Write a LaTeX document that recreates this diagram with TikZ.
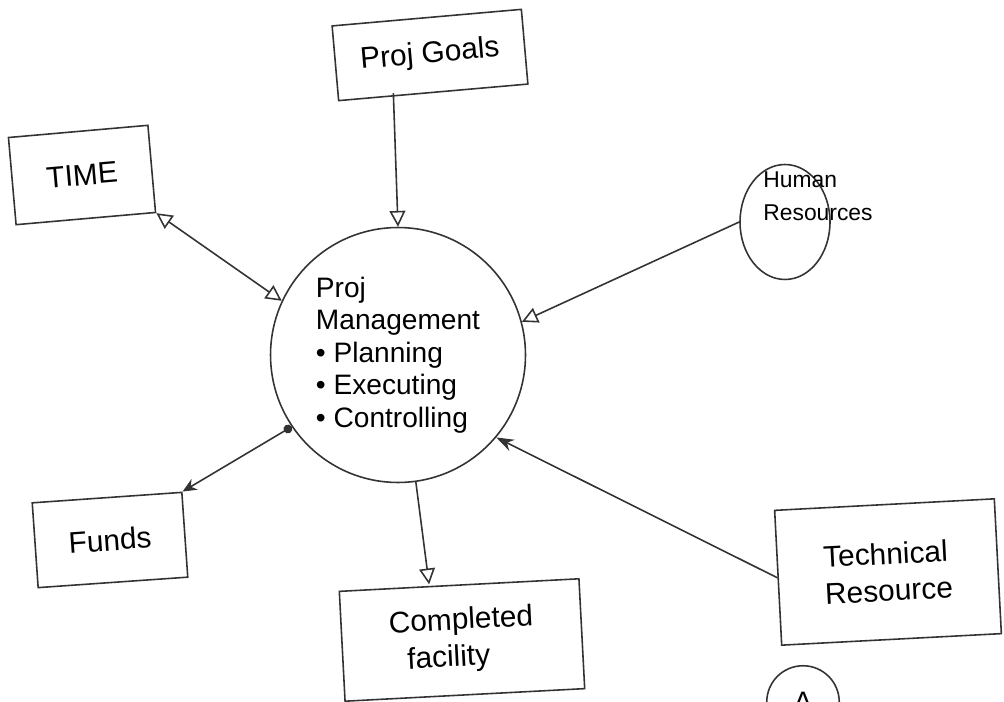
\documentclass[tikz,border=0pt]{standalone}
\usepackage{fontspec}
\setmainfont{Liberation Sans}
\usetikzlibrary{arrows.meta,shapes.geometric}

\tikzset{
    sketch/.style={draw=black!80, line width=0.9pt},
    box/.style={sketch, rectangle, align=left, font=\fontsize{17}{21}\selectfont},
    hub/.style={sketch, circle, align=left, minimum size=5.1cm, font=\fontsize{16}{18.5}\selectfont},
    flow/.style={sketch, -{Triangle[open, length=9pt, width=9pt]}},
    twoway/.style={sketch, {Triangle[open, length=9pt, width=9pt]}-{Triangle[open, length=9pt, width=9pt]}},
    fundflow/.style={sketch, {Stealth[length=8pt, width=7pt]}-{Circle[length=5pt]}},
    pull/.style={sketch, -{Stealth[length=10pt, width=7pt]}},
}
\newcommand{\bulletline}[1]{\textbullet\ #1}

\begin{document}
\begin{tikzpicture}[x=0.02cm, y=-0.02cm]
    \useasboundingbox (0,0) rectangle (1004,702);

    % Project management in the middle
    \node[hub] (pm) at (398,355) {Proj\\Management\\\bulletline{Planning}\\\bulletline{Executing}\\\bulletline{Controlling}};

    % Inputs and outputs around it
    \node[box, minimum width=3.8cm, minimum height=1.5cm, rotate=5] (goals) at (430,55) {Proj Goals};
    \node[box, minimum width=2.8cm, minimum height=1.75cm, rotate=5] (time) at (82,175) {TIME};
    \node[box, minimum width=3cm, minimum height=1.7cm, rotate=4] (funds) at (110,540) {Funds};
    \node[box, minimum width=4.8cm, minimum height=2.2cm, rotate=3] (facility) at (462,640) {Completed\\\ \ facility};
    \node[box, minimum width=4.4cm, minimum height=2.7cm, rotate=3] (tech) at (888,572) {Technical\\Resource};
    \node[sketch, ellipse, minimum width=1.8cm, minimum height=2.3cm] (hr) at (785,222) {};
    \node[align=left, font=\fontsize{13}{19}\selectfont] (hrtext) at (818,196) {Human\\Resources};

    % Connectors
    \draw[flow] ([xshift=-0.8cm]goals.south) -- (pm.north);
    \draw[twoway] (time.south east) -- (pm.155);
    \draw[flow] (hr.west) -- (pm.15);
    \draw[fundflow] (funds.north east) -- (pm.214);
    \draw[flow] (pm.278) -- ([xshift=-0.6cm]facility.north);
    \draw[pull] (tech.west) -- (pm.320);

    % page mark, cut off at the bottom
    \node[sketch, circle, minimum size=1.45cm, font=\fontsize{16}{18}\selectfont] (mark) at (803,702) {A};

\end{tikzpicture}
\end{document}
